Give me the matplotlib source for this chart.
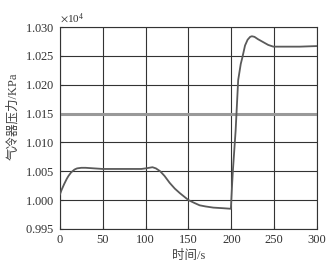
import matplotlib
matplotlib.use("Agg")
import matplotlib.pyplot as plt
from matplotlib.ticker import ScalarFormatter

plt.rcParams['font.family'] = ['Liberation Serif', 'Noto Sans CJK SC']
plt.rcParams['mathtext.fontset'] = 'stix'

# 时间 (s) 与气冷器压力 (KPa)
t = [0, 2, 5, 8, 10, 13, 17, 20, 25, 30, 40, 50, 60, 80, 95, 100, 104, 108,
     112, 117, 122, 128, 134, 140, 145, 150, 157, 163, 170, 179, 190,
     199.5, 200, 201, 202, 205, 208, 211, 213, 216, 219, 222, 224, 227, 231,
     237, 243, 249, 260, 280, 300]
p = [10010, 10018, 10028, 10037, 10042, 10048, 10053, 10055, 10056, 10056,
     10055, 10054, 10054, 10054, 10054, 10055, 10056, 10057,
     10055, 10050, 10042, 10030, 10020, 10012, 10006, 10000, 9995, 9991,
     9989, 9987, 9986,
     9985, 10000, 10030, 10055, 10120, 10208, 10236, 10248, 10268, 10278,
     10283, 10284, 10283, 10279, 10274, 10269, 10266, 10266, 10266, 10267]

fig = plt.figure(figsize=(3.33, 2.65), dpi=100)
ax = fig.add_axes([0.18, 0.136, 0.772, 0.762])

ax.plot(t, p, color='#5a5a5a', lw=1.3, zorder=3)

ax.set_xlim(0, 300)
ax.set_ylim(9950, 10300)
ax.set_xticks(range(0, 301, 50))
ax.set_yticks([9950, 10000, 10050, 10100, 10150, 10200, 10250, 10300])

fmt = ScalarFormatter(useMathText=True, useOffset=False)
fmt.set_powerlimits((0, 0))
ax.yaxis.set_major_formatter(fmt)
ax.yaxis.get_offset_text().set_fontsize(8)
ax.yaxis.get_offset_text().set_color('#333333')

ax.grid(True, color='#333333', lw=0.8)
ax.axhline(10150, color='#999999', lw=2.2, zorder=2)
ax.tick_params(direction='in', labelsize=9, labelcolor='#333333', length=2,
               color='#333333')
for s in ax.spines.values():
    s.set_color('#333333')
    s.set_linewidth(0.8)

ax.set_xlabel('时间/s', fontsize=9, color='#444444', labelpad=3)
ax.set_ylabel('气冷器压力/KPa', fontsize=9, color='#444444')
ax.yaxis.set_label_coords(-0.16, 0.56)

fig.savefig('out.png', dpi=100)
